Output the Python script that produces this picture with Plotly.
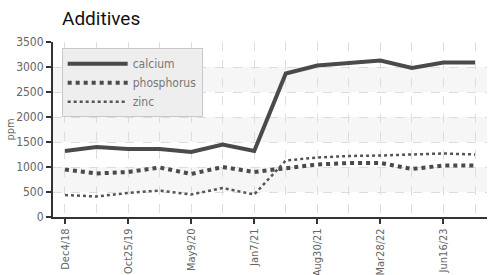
import plotly.graph_objects as go

# ---- data ----
x_index = list(range(14))
tick_positions = [0, 2, 4, 6, 8, 10, 12]
tick_labels = ["Dec4/18", "Oct25/19", "May9/20", "Jan7/21", "Aug30/21", "Mar28/22", "Jun16/23"]
calcium = [1320, 1400, 1360, 1360, 1300, 1450, 1320, 2870, 3030, 3080, 3130, 2980, 3090, 3090]
phosphorus = [950, 870, 900, 990, 860, 1000, 900, 980, 1050, 1080, 1080, 960, 1030, 1030]
zinc = [440, 410, 480, 530, 450, 580, 450, 1130, 1190, 1220, 1230, 1250, 1270, 1250]

font_main = "DejaVu Sans Condensed, Roboto, sans-serif"

fig = go.Figure()

# alternating horizontal bands
for lo, hi in [(500, 1000), (1500, 2000), (2500, 3000)]:
    fig.add_shape(type="rect", xref="paper", yref="y", x0=0, x1=1, y0=lo, y1=hi,
                  fillcolor="#f6f6f6", line=dict(width=0), layer="below")

fig.add_trace(go.Scatter(x=x_index, y=calcium, name="calcium", mode="lines",
                         line=dict(color="#4a4a4a", width=4)))
fig.add_trace(go.Scatter(x=x_index, y=phosphorus, name="phosphorus", mode="lines",
                         line=dict(color="#4a4a4a", width=4, dash="dot")))
fig.add_trace(go.Scatter(x=x_index, y=zinc, name="zinc", mode="lines",
                         line=dict(color="#555555", width=2.5, dash="dot")))

fig.update_layout(
    width=491, height=275,
    margin=dict(l=53, r=4, t=42, b=58),
    paper_bgcolor="white", plot_bgcolor="white",
    title=dict(text="Additives", x=62/491, xanchor="left", y=1 - 18/275, yanchor="middle",
               font=dict(family="Roboto, sans-serif", size=19, color="#111")),
    font=dict(family=font_main, color="#666", size=12),
    legend=dict(x=0.02, y=0.965, xanchor="left", yanchor="top",
                bgcolor="#eeeeee", bordercolor="#c8c8c8", borderwidth=1,
                font=dict(family=font_main, size=12, color="#777777"),
                itemwidth=60, tracegroupgap=0),
    showlegend=True,
    annotations=[dict(text="ppm", xref="paper", yref="paper", x=-53/434 + 10/434, y=0.5,
                      xanchor="center", yanchor="middle", textangle=-90, showarrow=False,
                      font=dict(family=font_main, size=11, color="#666"))],
)

fig.update_xaxes(
    range=[-0.38, 13.38], tickmode="array", tickvals=tick_positions, ticktext=tick_labels,
    tickangle=-90, ticks="outside", ticklen=5, tickcolor="#333", tickwidth=1.5,
    showline=True, linecolor="#333", linewidth=2,
    showgrid=True, gridcolor="#dddddd", griddash="dash", gridwidth=1,
    minor=dict(dtick=1, tick0=0, showgrid=True, gridcolor="#dddddd", griddash="dash", ticks=""),
    tickfont=dict(family=font_main, size=11, color="#666"),
    zeroline=False, automargin=False,
)
fig.update_yaxes(
    range=[0, 3500], dtick=500, ticks="outside", ticklen=5, tickcolor="#333", tickwidth=1.5,
    showline=True, linecolor="#333", linewidth=2,
    showgrid=True, gridcolor="#dddddd", griddash="dash", gridwidth=1,
    tickfont=dict(family=font_main, size=12, color="#666"),
    zeroline=False, automargin=False,
)

fig.write_html("out.html", config={"displayModeBar": False},
               post_script="document.body.style.margin='0';document.body.style.overflow='hidden';")
